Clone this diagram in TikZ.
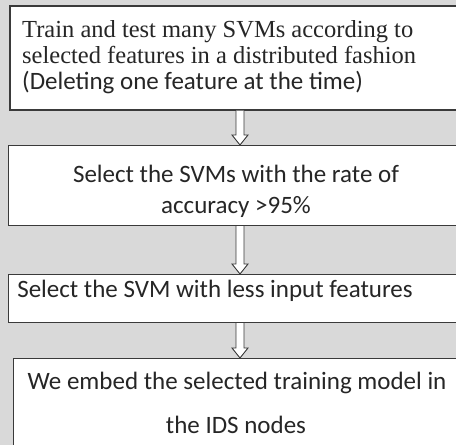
\documentclass[tikz,border=0pt]{standalone}
\usepackage{fontspec}
\setmainfont{Liberation Serif}
\newfontfamily\calfont{Carlito}
\usetikzlibrary{calc}
\definecolor{bg}{HTML}{D9D9D9}
\definecolor{edge}{HTML}{3A3A3A}
\tikzset{
  box/.style={draw=edge, line width=1.1pt, fill=white, rectangle, anchor=north west, inner sep=0pt},
  serifline/.style={anchor=base west, inner sep=0pt, font=\fontsize{24.5}{26}\selectfont, text=black!85},
  calline/.style={anchor=base, inner sep=0pt, font=\calfont\fontsize{25}{27}\selectfont, text=black!85},
  arr/.style={draw=edge, line width=0.9pt, fill=white, line join=miter},
}
\begin{document}
\begin{tikzpicture}[x=1pt,y=-1pt]
\fill[bg] (0,0) rectangle (456,445);
\useasboundingbox (0,0) rectangle (456,445);
\begin{scope}
\clip (0,0) rectangle (456,445);
\node[box, line width=1.5pt, minimum width=456pt, minimum height=104pt] (b1) at (9,5) {};
\node[box, minimum width=457pt, minimum height=80pt] (b2) at (8,145) {};
\node[box, minimum width=457pt, minimum height=48pt] (b3) at (8,274) {};
\node[box, minimum width=452pt, minimum height=97pt] (b4) at (13,358) {};
\end{scope}
\coordinate (ax) at (240,0);
% text
\node[serifline] (t11) at (22,37) {Train and test many SVMs according to};
\node[serifline] (t12) at (22,63) {selected features in a distributed fashion};
\node[calline, anchor=base west] (t13) at (22,89) {(Deleting one feature at the time)};
\node[calline] (t21) at (236,182) {Select the SVMs with the rate of};
\node[calline] (t22) at (236,213) {accuracy >95\%};
\node[calline] (t31) at (215,297) {Select the SVM with less input features};
\node[calline] (t41) at (237,389) {We embed the selected training model in};
\node[calline] (t42) at (236,433) {the IDS nodes};
% arrows
\foreach \a/\b in {b1/b2, b2/b3, b3/b4}{
  \draw[arr] ($(\a.south -| ax)+(-4,0)$) -- ($(\b.north -| ax)+(-4,-10)$) -- ($(\b.north -| ax)+(-8,-10)$) -- (\b.north -| ax) -- ($(\b.north -| ax)+(8,-10)$) -- ($(\b.north -| ax)+(4,-10)$) -- ($(\a.south -| ax)+(4,0)$);
}
\end{tikzpicture}
\end{document}
